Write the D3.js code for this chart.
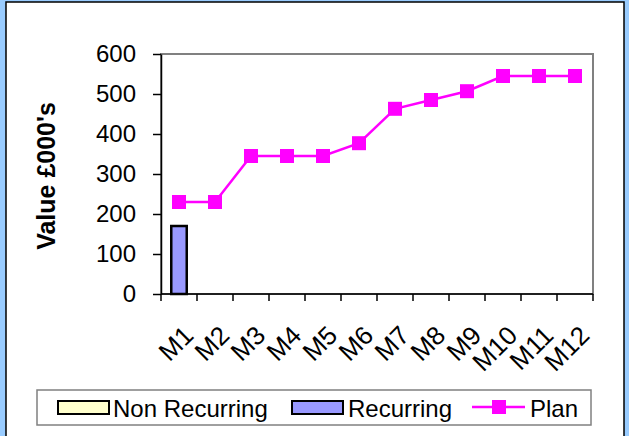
<!DOCTYPE html>
<html>
<head>
<meta charset="utf-8">
<script src="https://cdn.jsdelivr.net/npm/d3@7"></script>
<style>
  body { margin: 0; background: #99ccff; }
  #chart { width: 629px; height: 436px; }
  text { font-family: "Liberation Sans", Arial, sans-serif; }
</style>
</head>
<body>
<div id="chart"></div>
<script>
// data
var months = ["M1", "M2", "M3", "M4", "M5", "M6", "M7", "M8", "M9", "M10", "M11", "M12"];
var nonRecurring = [0, 0, 0, 0, 0, 0, 0, 0, 0, 0, 0, 0];
var recurring = [170, null, null, null, null, null, null, null, null, null, null, null];
var plan = [230, 230, 345, 345, 345, 377, 463, 485, 507, 545, 545, 545];
var yTicks = [0, 100, 200, 300, 400, 500, 600];

var width = 629, height = 436;
var svg = d3.select("#chart").append("svg")
    .attr("width", width)
    .attr("height", height);

// white panel
svg.append("rect")
    .attr("x", 6).attr("y", 2)
    .attr("width", 618).attr("height", 440)
    .attr("fill", "white")
    .attr("stroke", "black")
    .attr("stroke-width", 1.5);

var pLeft = 161, pRight = 593, pTop = 54, pBottom = 294;

var xScale = d3.scaleBand().domain(months).range([pLeft, pRight]);
var yScale = d3.scaleLinear().domain([0, 600]).range([pBottom, pTop]);

// plot area frame (grey)
svg.append("rect")
    .attr("x", pLeft).attr("y", pTop)
    .attr("width", pRight - pLeft).attr("height", pBottom - pTop)
    .attr("fill", "white")
    .attr("stroke", "#808080")
    .attr("stroke-width", 2);

// bars (stacked non recurring + recurring)
var barW = xScale.bandwidth() * 0.43;
months.forEach(function (m, i) {
    if (recurring[i] == null) return;
    var base = nonRecurring[i] || 0;
    svg.append("rect")
        .attr("x", xScale(m) + (xScale.bandwidth() - barW) / 2)
        .attr("y", yScale(base + recurring[i]))
        .attr("width", barW)
        .attr("height", yScale(base) - yScale(base + recurring[i]))
        .attr("fill", "#9999ff")
        .attr("stroke", "black")
        .attr("stroke-width", 2.5);
});

// y axis
var yAxis = svg.append("g")
    .attr("transform", "translate(" + pLeft + ",0)")
    .call(d3.axisLeft(yScale).tickValues(yTicks).tickSize(8).tickPadding(17).tickSizeOuter(0));
yAxis.select(".domain").attr("stroke", "black").attr("stroke-width", 1.5);
yAxis.selectAll("line").attr("stroke", "black").attr("stroke-width", 1.5);
yAxis.selectAll("text").style("font-size", "24px").attr("fill", "black");

// x axis: ticks on category boundaries
var xAxis = svg.append("g").attr("transform", "translate(0," + pBottom + ")");
xAxis.append("line")
    .attr("x1", pLeft).attr("x2", pRight)
    .attr("stroke", "black").attr("stroke-width", 1.5);
var bounds = months.map(function (m) { return xScale(m); }).concat([pRight]);
xAxis.selectAll(".tk").data(bounds).join("line")
    .attr("class", "tk")
    .attr("x1", function (d) { return d; })
    .attr("x2", function (d) { return d; })
    .attr("y1", 0).attr("y2", 7)
    .attr("stroke", "black").attr("stroke-width", 1.5);
xAxis.selectAll(".lbl").data(months).join("text")
    .attr("class", "lbl")
    .attr("transform", function (d) {
        return "translate(" + (xScale(d) + xScale.bandwidth() / 2 + 16) + ",43) rotate(-45)";
    })
    .attr("text-anchor", "end")
    .style("font-size", "26px")
    .text(function (d) { return d; });

// plan line
var line = d3.line()
    .x(function (d, i) { return xScale(months[i]) + xScale.bandwidth() / 2; })
    .y(function (d) { return yScale(d); });
svg.append("path")
    .datum(plan)
    .attr("d", line)
    .attr("fill", "none")
    .attr("stroke", "#ff00ff")
    .attr("stroke-width", 2.5);
var ms = 14;
svg.selectAll(".mk").data(plan).join("rect")
    .attr("class", "mk")
    .attr("x", function (d, i) { return xScale(months[i]) + xScale.bandwidth() / 2 - ms / 2; })
    .attr("y", function (d) { return yScale(d) - ms / 2; })
    .attr("width", ms).attr("height", ms)
    .attr("fill", "#ff00ff");

// y title
svg.append("text")
    .attr("transform", "translate(55,176) rotate(-90)")
    .attr("text-anchor", "middle")
    .style("font-size", "25px")
    .style("font-weight", "bold")
    .text("Value £000's");

// legend
var lg = svg.append("g");
lg.append("rect")
    .attr("x", 37).attr("y", 390)
    .attr("width", 554).attr("height", 35)
    .attr("fill", "white").attr("stroke", "#808080").attr("stroke-width", 1.5);
lg.append("rect").attr("x", 58).attr("y", 401).attr("width", 51).attr("height", 13)
    .attr("fill", "#ffffcc").attr("stroke", "black").attr("stroke-width", 2);
lg.append("text").attr("x", 113).attr("y", 417).style("font-size", "24px").text("Non Recurring");
lg.append("rect").attr("x", 292).attr("y", 401).attr("width", 51).attr("height", 13)
    .attr("fill", "#9999ff").attr("stroke", "black").attr("stroke-width", 2);
lg.append("text").attr("x", 348).attr("y", 417).style("font-size", "24px").text("Recurring");
lg.append("line").attr("x1", 472).attr("x2", 525).attr("y1", 407).attr("y2", 407)
    .attr("stroke", "#ff00ff").attr("stroke-width", 2.5);
lg.append("rect").attr("x", 492).attr("y", 400).attr("width", 14).attr("height", 14)
    .attr("fill", "#ff00ff");
lg.append("text").attr("x", 530).attr("y", 417).style("font-size", "24px").text("Plan");
</script>
</body>
</html>
